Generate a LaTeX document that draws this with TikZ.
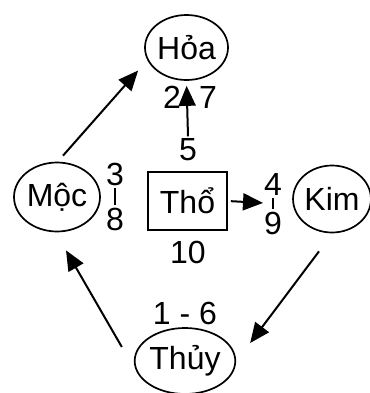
\documentclass[tikz,border=0pt]{standalone}
\usepackage{fontspec}
\setmainfont{Liberation Sans}
\usetikzlibrary{arrows.meta, positioning, shapes.geometric, calc}
\newcommand\elemfont{\fontsize{16}{19}\selectfont}
\tikzset{
  arrowB/.style={-{Triangle[length=10pt, width=8.5pt]}, line width=1pt},
  elem/.style={ellipse, draw, line width=0.85pt, inner sep=0pt, font=\elemfont},
  boxT/.style={rectangle, draw, line width=0.85pt, inner sep=0pt, font=\elemfont},
  num/.style={inner sep=1pt, font=\elemfont},
  tickline/.style={line width=0.8pt, shorten <=0.3pt, shorten >=0.3pt},
}
\begin{document}
\begin{tikzpicture}[x=0.5pt, y=-0.5pt]
  \useasboundingbox (0,0) rectangle (370,393);
  % the five elements
  \node[elem, minimum width=41.5pt, minimum height=32.5pt] (hoa) at (186.5,47.5) {Hỏa};
  \node[elem, minimum width=43pt, minimum height=34.5pt] (moc) at (57,197) {Mộc};
  \node[elem, minimum width=38pt, minimum height=33.5pt] (kim) at (332,199) {Kim};
  \node[elem, minimum width=43pt, minimum height=33pt] (thuy) at (185,361) {Thủy};
  \node[boxT, minimum width=39.5pt, minimum height=29pt] (tho) at (187.5,201) {Thổ};
  % numbers
  \node[num] (l5) at (188,150) {5};
  \node[num] (l10) at (188,252) {10};
  \node[num] (l2) at (172,97) {2};
  \node[num] (l7) at (208,97) {7};
  \node[num] (l3) at (115,174) {3};
  \node[num] (l8) at (115,219) {8};
  \node[num] (l4) at (273,184) {4};
  \node[num] (l9) at (273,223) {9};
  \node[num] (l16) at (185,313) {1 - 6};
  \coordinate (m49) at ($(l4)!0.5!(l9)$);
  \draw[tickline] (l3.south) -- (l8.north);
  \draw[tickline] (l4.south) -- (l9.north);
  % arrows
  \draw[arrowB, shorten >=2.5pt] (l5.north) -- (hoa.south);
  \draw[arrowB, shorten <=1.5pt, shorten >=5pt] (tho.east) -- (m49);
  \draw[arrowB] ([shift={(3pt,3pt)}]moc.north) -- ([shift={(-3pt,-11.5pt)}]hoa.west);
  \draw[arrowB] ([shift={(-6.5pt,-9pt)}]kim.south) -- ([shift={(7pt,9pt)}]thuy.east);
  \draw[arrowB] ([shift={(-6pt,7pt)}]thuy.west) -- ([shift={(4.5pt,-9pt)}]moc.south);
\end{tikzpicture}
\end{document}
